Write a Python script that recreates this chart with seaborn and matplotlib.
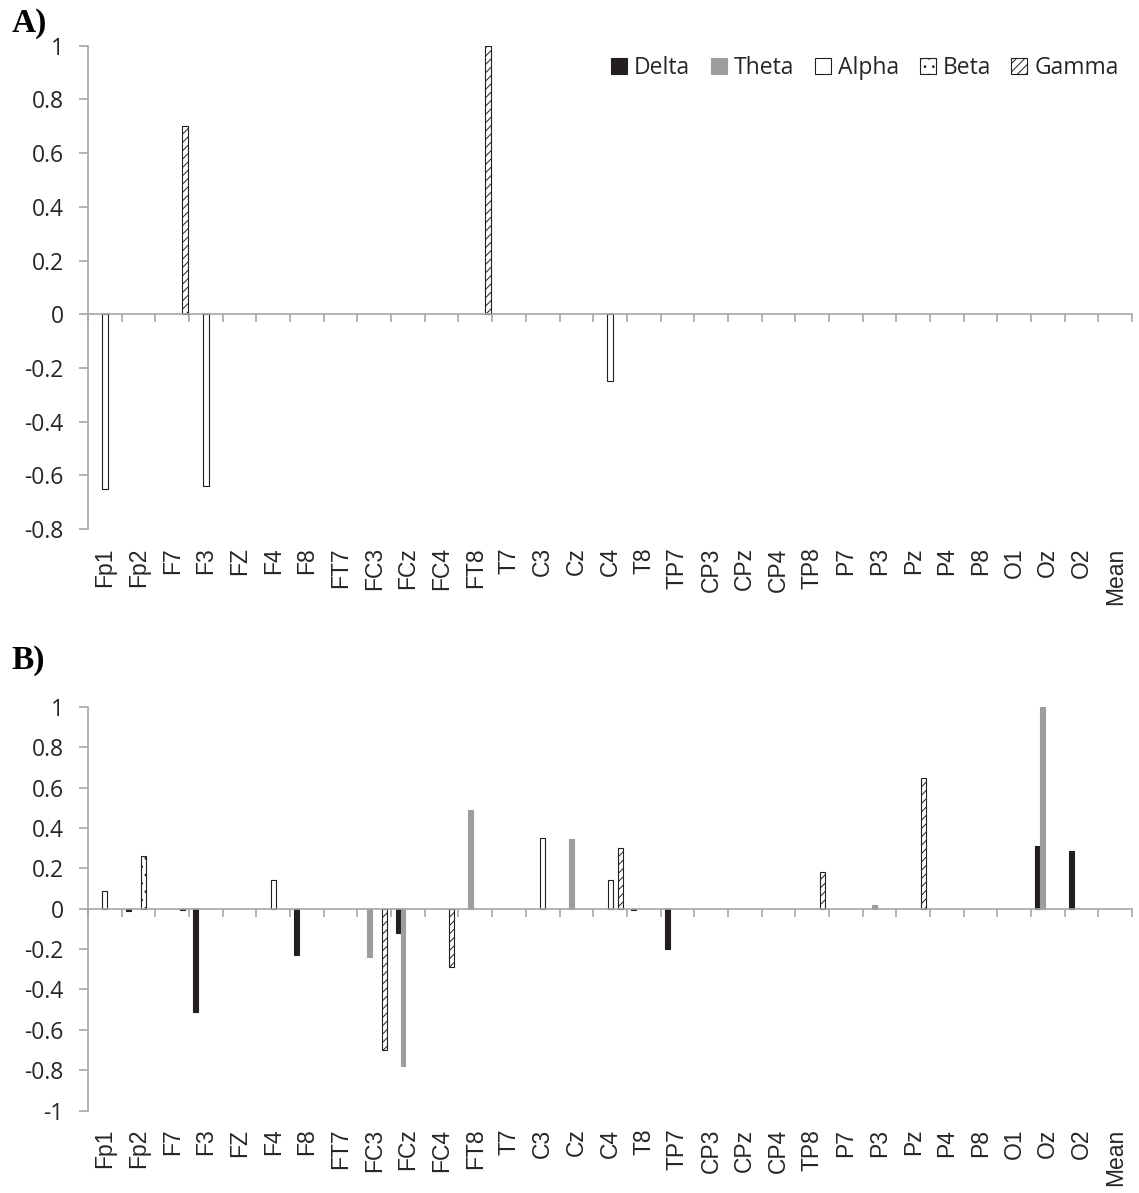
import numpy as np
import pandas as pd
import matplotlib
matplotlib.use('Agg')
import matplotlib.pyplot as plt
import seaborn as sns
from matplotlib.patches import Patch
from matplotlib.ticker import FixedLocator, FuncFormatter, MultipleLocator

sns.set_style('white')
plt.rcParams['font.family'] = ['Open Sans', 'DejaVu Sans']
plt.rcParams['axes.unicode_minus'] = False
plt.rcParams['hatch.linewidth'] = 0.7

channels = ['Fp1', 'Fp2', 'F7', 'F3', 'FZ', 'F4', 'F8', 'FT7', 'FC3', 'FCz', 'FC4', 'FT8',
            'T7', 'C3', 'Cz', 'C4', 'T8', 'TP7', 'CP3', 'CPz', 'CP4', 'TP8', 'P7', 'P3',
            'Pz', 'P4', 'P8', 'O1', 'Oz', 'O2', 'Mean']
bands = ['Delta', 'Theta', 'Alpha', 'Beta', 'Gamma']

# Panel A values (31 channels each)
delta_A = [0] * 31
theta_A = [0] * 31
alpha_A = [-0.65, 0, 0, -0.64, 0, 0, 0, 0, 0, 0, 0, 0, 0, 0, 0, -0.25,
           0, 0, 0, 0, 0, 0, 0, 0, 0, 0, 0, 0, 0, 0, 0]
beta_A = [0] * 31
gamma_A = [0, 0, 0.70, 0, 0, 0, 0, 0, 0, 0, 0, 1.0, 0, 0, 0, 0,
           0, 0, 0, 0, 0, 0, 0, 0, 0, 0, 0, 0, 0, 0, 0]

# Panel B values
delta_B = [0, -0.01, 0, -0.51, 0, 0, -0.23, 0, 0, -0.12, 0, 0, 0, 0, 0, 0,
           -0.005, -0.20, 0, 0, 0, 0, 0, 0, 0, 0, 0, 0, 0.31, 0.285, 0]
theta_B = [0, 0, 0, 0, 0, 0, 0, 0, -0.24, -0.78, 0, 0.49, 0, 0, 0.345, 0,
           0, 0, 0, 0, 0, 0, 0, 0.02, 0, 0, 0, 0, 1.0, 0, 0]
alpha_B = [0.09, 0, 0, 0, 0, 0.14, 0, 0, 0, 0, 0, 0, 0, 0.35, 0, 0.14,
           0, 0, 0, 0, 0, 0, 0, 0, 0, 0, 0, 0, 0, 0, 0]
beta_B = [0, 0.26, 0, 0, 0, 0, 0, 0, 0, 0, 0, 0, 0, 0, 0, 0,
          0, 0, 0, 0, 0, 0, 0, 0, 0, 0, 0, 0, 0, 0, 0]
gamma_B = [0, 0, -0.005, 0, 0, 0, 0, 0, -0.70, 0, -0.29, 0, 0, 0, 0, 0.30,
           0, 0, 0, 0, 0, 0.18, 0, 0, 0.645, 0, 0, 0, 0, 0, 0]

DARK = '#231f20'
GRAY_BAR = '#9d9d9d'
AXIS_GRAY = '#a6a6a6'
TEXT = '#262626'

styles = {
    'Delta': dict(facecolor=DARK, edgecolor=DARK, hatch=None),
    'Theta': dict(facecolor=GRAY_BAR, edgecolor=GRAY_BAR, hatch=None),
    'Alpha': dict(facecolor='white', edgecolor=DARK, hatch=None),
    'Beta': dict(facecolor='white', edgecolor=DARK, hatch='..'),
    'Gamma': dict(facecolor='white', edgecolor=DARK, hatch='////'),
}


def long_df(series):
    rows = []
    for b, vals in zip(bands, series):
        for ch, v in zip(channels, vals):
            rows.append((ch, b, v))
    return pd.DataFrame(rows, columns=['channel', 'band', 'value'])


def fmt(v, pos):
    if abs(v) < 1e-9:
        return '0'
    return f'{round(v, 1):g}'


def draw(ax, df, width, gap, ylim):
    sns.barplot(data=df, x='channel', y='value', hue='band', order=channels,
                hue_order=bands, width=width, gap=gap, errorbar=None,
                legend=False, ax=ax, linewidth=0.8, saturation=1)
    for band, cont in zip(bands, ax.containers):
        st = styles[band]
        for p in cont.patches:
            p.set_facecolor(st['facecolor'])
            p.set_edgecolor(st['edgecolor'])
            if st['hatch']:
                p.set_hatch(st['hatch'])
            if p.get_height() == 0:
                p.set_visible(False)
    ax.set_xlim(-0.5, len(channels) - 0.5)
    ax.set_ylim(*ylim)
    ax.set_xlabel('')
    ax.set_ylabel('')
    ax.yaxis.set_major_locator(MultipleLocator(0.2))
    ax.yaxis.set_major_formatter(FuncFormatter(fmt))
    for s in ['right', 'bottom']:
        ax.spines[s].set_visible(False)
    ax.spines['left'].set_visible(True)
    ax.spines['left'].set_color(AXIS_GRAY)
    ax.spines['left'].set_linewidth(1.2)
    ax.spines['top'].set_visible(True)
    ax.spines['top'].set_position(('data', 0))
    ax.spines['top'].set_color(AXIS_GRAY)
    ax.spines['top'].set_linewidth(1.2)
    ax.set_xticks(range(len(channels)))
    ax.set_xticklabels(channels, fontfamily=['Liberation Sans', 'DejaVu Sans'],
                       fontsize=16.5, rotation=90, color=TEXT)
    ax.xaxis.set_minor_locator(FixedLocator(np.arange(-0.5, len(channels), 1.0)))
    ax.tick_params(axis='x', which='minor', bottom=False, top=True, direction='in',
                   length=6, color=AXIS_GRAY, width=1.2)
    ax.tick_params(axis='x', which='major', bottom=True, top=False, length=0,
                   labelbottom=True, labeltop=False, pad=13)
    ax.tick_params(axis='y', which='major', left=True, direction='out', length=6.5,
                   color=AXIS_GRAY, width=1.2, labelsize=16.5, labelcolor=TEXT, pad=11)


fig = plt.figure(figsize=(11.39, 11.93), dpi=100)
axA = fig.add_axes([0.0773, 0.5564, 0.9166, 0.4053])
axB = fig.add_axes([0.0773, 0.069, 0.9166, 0.3386])

draw(axA, long_df([delta_A, theta_A, alpha_A, beta_A, gamma_A]), 0.965, 0.08, (-0.8, 1.0))
draw(axB, long_df([delta_B, theta_B, alpha_B, beta_B, gamma_B]), 0.74, 0.0, (-1.0, 1.0))

handles = [Patch(facecolor=styles[b]['facecolor'], edgecolor=styles[b]['edgecolor'],
                 hatch=styles[b]['hatch'], linewidth=0.8, label=b) for b in bands]
axA.legend(handles=handles, ncol=5, loc='center right', bbox_to_anchor=(0.996, 0.954),
           frameon=False, fontsize=16.5, handlelength=0.7, handleheight=0.7,
           handletextpad=0.3, columnspacing=0.9, borderaxespad=0,
           labelcolor=TEXT)

fig.text(0.010, 1 - 8 / 1193, 'A)', fontfamily='Liberation Serif', fontweight='bold',
         fontsize=24, va='top', ha='left', color='black')
fig.text(0.010, 1 - 645 / 1193, 'B)', fontfamily='Liberation Serif', fontweight='bold',
         fontsize=24, va='top', ha='left', color='black')

fig.savefig('out.png', dpi=100, facecolor='white')
